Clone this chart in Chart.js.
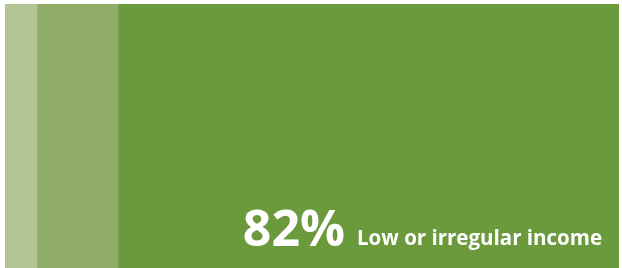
<!DOCTYPE html>
<html>
<head>
<meta charset="utf-8">
<script src="https://cdn.jsdelivr.net/npm/chart.js@4"></script>
<style>
  html, body { margin: 0; padding: 0; background: #fff; }
  #wrap { width: 622px; height: 268px; }
</style>
</head>
<body>
<div id="wrap"><canvas id="mychart" width="622" height="268"></canvas></div>
<script>
var categories = ["Income"];
var segmentLabels = ["Other", "Other (2)", "Low or irregular income"];
var segmentValues = [5.2, 13.2, 81.6];
var segmentColors = ["#b4c595", "#8fab68", "#6b9a3d"];

var datasets = [];
for (var i = 0; i < segmentValues.length; i++) {
  datasets.push({
    label: segmentLabels[i],
    data: [segmentValues[i]],
    backgroundColor: segmentColors[i],
    borderWidth: 0,
    barPercentage: 1,
    categoryPercentage: 1
  });
}

// big percentage + label inside the last segment
var labelPlugin = {
  id: "segLabel",
  afterDatasetsDraw: function(chart) {
    var last = segmentValues.length - 1;
    var bar = chart.getDatasetMeta(last).data[0];
    var ctx = chart.ctx;
    var right = bar.x - 17;
    var baseline = bar.y + bar.height / 2 - 23;
    var label = segmentLabels[last];
    ctx.save();
    ctx.fillStyle = "#ffffff";
    ctx.textBaseline = "alphabetic";
    ctx.textAlign = "right";
    ctx.font = "bold 20.5px 'Open Sans'";
    ctx.fillText(label, right, baseline);
    var w = ctx.measureText(label).width;
    ctx.font = "bold 50px 'Open Sans'";
    ctx.fillText(Math.round(segmentValues[last]) + "%", right - w - 12, baseline + 1);
    ctx.restore();
  }
};

var mychart = document.getElementById("mychart").getContext("2d");
var chart = new Chart(mychart, {
  type: "bar",
  data: {
    labels: categories,
    datasets: datasets
  },
  options: {
    indexAxis: "y",
    responsive: false,
    animation: false,
    layout: { padding: { left: 5, top: 4, right: 3, bottom: 0 } },
    scales: {
      x: { stacked: true, min: 0, max: 100, display: false },
      y: { stacked: true, display: false }
    },
    plugins: {
      legend: { display: false },
      tooltip: { enabled: false }
    }
  },
  plugins: [labelPlugin]
});
</script>
</body>
</html>
